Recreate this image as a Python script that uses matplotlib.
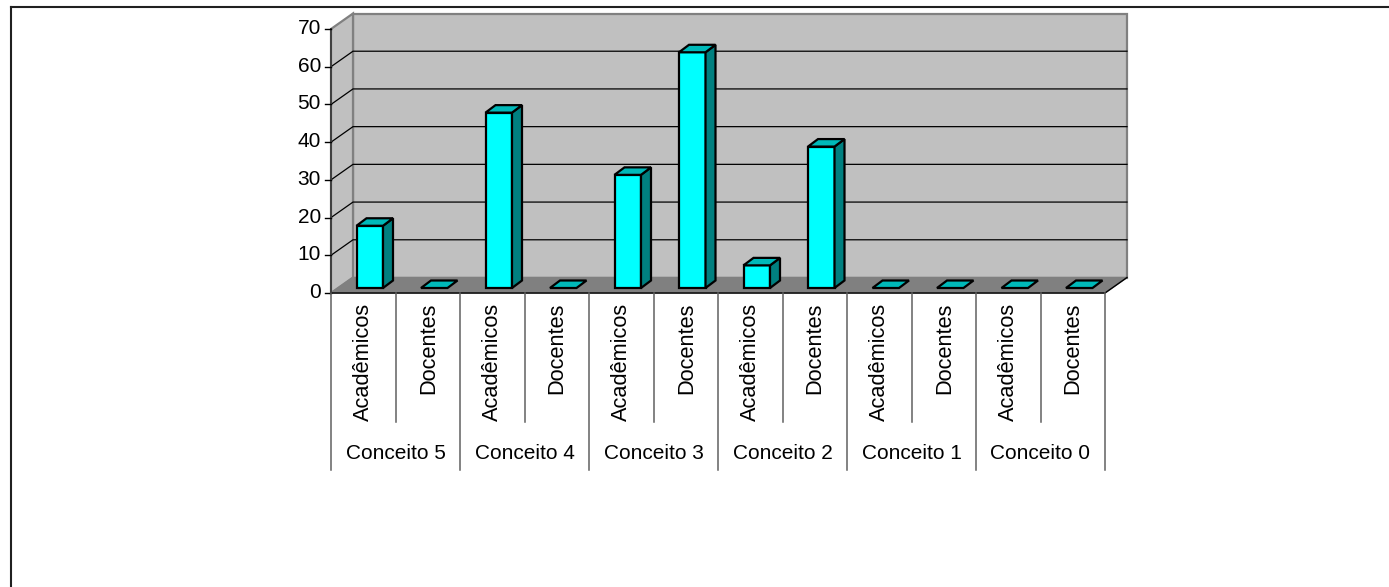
import numpy as np
from matplotlib import pyplot as plt
from matplotlib.patches import Polygon

plt.rcParams['font.family'] = ['Liberation Sans', 'DejaVu Sans']

groups = ['Conceito 5', 'Conceito 4', 'Conceito 3', 'Conceito 2', 'Conceito 1', 'Conceito 0']
series = ['Acadêmicos', 'Docentes']
academicos = [16.5, 46.5, 30, 6, 0, 0]
docentes = [0, 0, 62.5, 37.5, 0, 0]
yticks = [0, 10, 20, 30, 40, 50, 60, 70]

# one bar per series inside each group, in drawing order
values = np.column_stack([academicos, docentes]).ravel()

fig = plt.figure(figsize=(13.89, 5.87), dpi=100)
W, H = 1389, 587

# frame around the whole sheet
bg = fig.add_axes([0, 0, 1, 1])
bg.set_xlim(0, W)
bg.set_ylim(H, 0)
bg.axis('off')
bg.plot([11, W], [6.5, 6.5], color='#202020', lw=1.5)
bg.plot([11, 11], [6.5, H], color='#202020', lw=1.5)

# axes sit on the front plane of the 3d box
left, right, top, bottom = 331, 1105, 29, 293
ax = fig.add_axes([left / W, 1 - bottom / H, (right - left) / W, (bottom - top) / H])
ax.set_xlim(0, 12)
ax.set_ylim(0, 70)
ax.axis('off')

px = 12 / (right - left)
py = 70 / (bottom - top)
dx = 22 * px
dy = 15.5 * py


def poly(points, **kw):
    kw.setdefault('clip_on', False)
    ax.add_patch(Polygon(points, closed=True, **kw))


# walls and floor
poly([(dx, dy), (12 + dx, dy), (12 + dx, 70 + dy), (dx, 70 + dy)],
     facecolor='#c0c0c0', edgecolor='#808080', lw=1.6, zorder=1)
poly([(0, 0), (dx, dy), (dx, 70 + dy), (0, 70)],
     facecolor='#c0c0c0', edgecolor='#808080', lw=1.6, zorder=1)
poly([(0, 0), (12, 0), (12 + dx, dy), (dx, dy)],
     facecolor='#808080', edgecolor='#808080', lw=1, zorder=1.5)

# gridlines run across the side wall and the back wall
for v in yticks[1:-1]:
    ax.plot([0, dx, 12 + dx], [v, v + dy, v + dy], color='black', lw=0.9,
            zorder=2, clip_on=False, solid_joinstyle='miter')

# axis lines and ticks
ax.plot([0, 0], [0, 70], color='#404040', lw=1.4, zorder=3, clip_on=False)
ax.plot([0, 12, 12 + dx], [0, 0, dy], color='black', lw=1, zorder=3, clip_on=False)
for v in yticks:
    ax.plot([-6 * px, 0], [v, v], color='black', lw=1, zorder=3, clip_on=False)
    ax.text(-10 * px, v + 0.5 * py, str(v), ha='right', va='center', fontsize=15)

# bars
bar_off = 25.5 * px
bar_w = 26.5 * px
bar_dx = 10 * px
bar_dy = 7.5 * py
base = 5 * py
for i, v in enumerate(values):
    x0 = i + bar_off
    x1 = x0 + bar_w
    y0 = base
    y1 = base + v
    z = 4 + i * 0.01
    if v > 0:
        poly([(x0, y0), (x1, y0), (x1, y1), (x0, y1)],
             facecolor='#00ffff', edgecolor='black', lw=1.6, zorder=z)
        poly([(x1, y0), (x1 + bar_dx, y0 + bar_dy), (x1 + bar_dx, y1 + bar_dy), (x1, y1)],
             facecolor='#008080', edgecolor='black', lw=1.6, zorder=z)
    poly([(x0, y1), (x1, y1), (x1 + bar_dx, y1 + bar_dy), (x0 + bar_dx, y1 + bar_dy)],
         facecolor='#00b9b9', edgecolor='black', lw=1.6, zorder=z)

# two level category axis below the plot
inner = 129 * py
outer = 177 * py
for i in range(13):
    low = outer if i % 2 == 0 else inner
    ax.plot([i, i], [0, -low], color='#606060', lw=1.1, zorder=3, clip_on=False)
for i in range(12):
    ax.text(i + 0.5 + 0.5 * px, -9.5 * py, series[i % 2], rotation=90, ha='center', va='top',
            fontsize=15.7)
for i, g in enumerate(groups):
    ax.text(2 * i + 1, -160 * py, g, ha='center', va='center', fontsize=15)

fig.savefig('out.png', dpi=100)
